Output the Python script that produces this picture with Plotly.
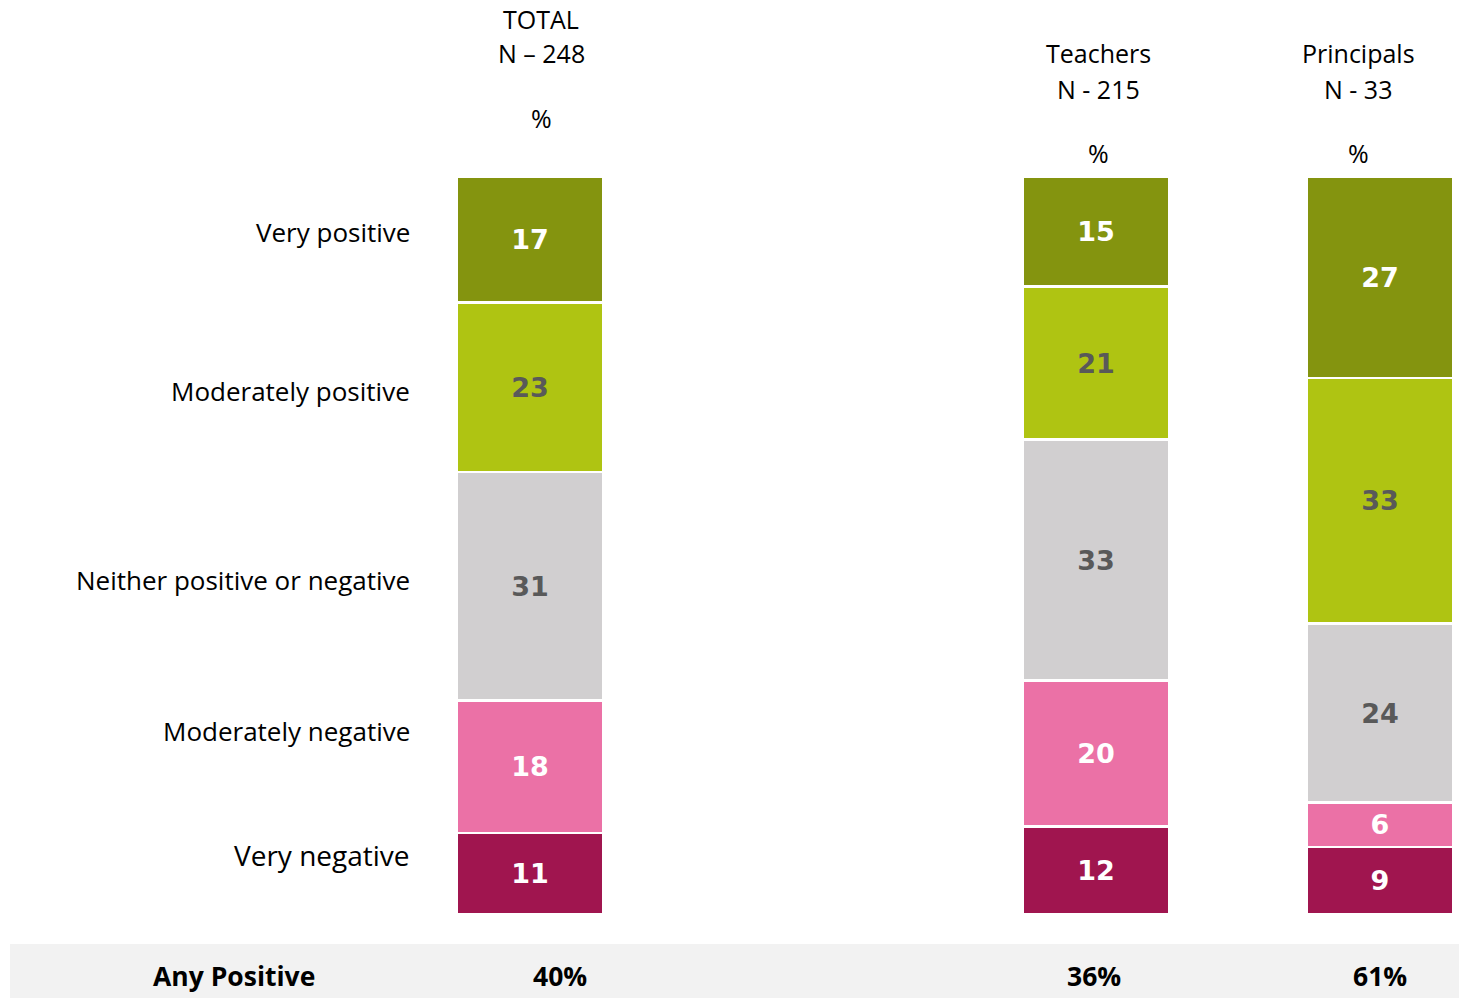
import plotly.graph_objects as go

# Survey responses, listed top of stack to bottom
categories = ["Very positive", "Moderately positive", "Neither positive or negative",
              "Moderately negative", "Very negative"]
groups = ["TOTAL", "Teachers", "Principals"]
group_n = ["N – 248", "N - 215", "N - 33"]
values = {
    "TOTAL": [17, 23, 31, 18, 11],
    "Teachers": [15, 21, 33, 20, 12],
    "Principals": [27, 33, 24, 6, 9],
}
any_positive = ["40%", "36%", "61%"]

# Styling
colors = ["#84940F", "#AFC412", "#D1CFD0", "#EB71A6", "#A0154F"]
text_colors = ["white", "#595959", "#595959", "white", "white"]

W, H = 1459, 998
bar_x = [530, 1096, 1380]
header_x = [541, 1098, 1358]
bar_width = 147
plot_top_px, plot_bottom_px = 177, 914
label_font = "'Open Sans', Lato, sans-serif"


def py(px):
    """Convert a pixel row into paper coordinates."""
    return (H - px) / H


fig = go.Figure()

axis_names = ["y", "y2", "y3"]
for gi, g in enumerate(groups):
    vals = values[g]
    # stack from the bottom category upwards
    for ci in reversed(range(len(categories))):
        fig.add_trace(go.Bar(
            x=[bar_x[gi]], y=[vals[ci]], width=bar_width,
            yaxis=axis_names[gi],
            marker=dict(color=colors[ci], line=dict(color="white", width=2.5)),
            text=[str(vals[ci])], textposition="inside", insidetextanchor="middle",
            textangle=0, constraintext="none",
            textfont=dict(family="'DejaVu Sans', Verdana, sans-serif", size=27,
                          color=text_colors[ci], weight="bold"),
            showlegend=False, hoverinfo="skip",
        ))

domain = [py(plot_bottom_px), py(plot_top_px)]
layout_axes = {}
for gi, g in enumerate(groups):
    key = "yaxis" if gi == 0 else f"yaxis{gi + 1}"
    ax = dict(range=[0, sum(values[g])], domain=domain, visible=False, fixedrange=True)
    if gi > 0:
        ax["overlaying"] = "y"
    layout_axes[key] = ax

fig.update_layout(
    width=W, height=H,
    margin=dict(l=0, r=0, t=0, b=0),
    paper_bgcolor="white", plot_bgcolor="white",
    barmode="stack",
    xaxis=dict(range=[0, W], domain=[0, 1], visible=False, fixedrange=True),
    **layout_axes,
)

annotations = []

# Column headers
header_rows = [
    [(19, "TOTAL"), (53, "N – 248"), (118, "%")],
    [(53, "Teachers"), (89, "N - 215"), (153, "%")],
    [(53, "Principals"), (89, "N - 33"), (153, "%")],
]
for gi, rows in enumerate(header_rows):
    for ypx, txt in rows:
        annotations.append(dict(
            x=header_x[gi], xref="x", y=py(ypx), yref="paper",
            text=txt, showarrow=False, xanchor="center", yanchor="middle",
            font=dict(family=label_font, size=25, color="black"),
        ))

# Category labels on the left
label_rows = [232, 391, 580, 731, 855]
label_sizes = [26, 26, 26, 26, 28]
for ci, cat in enumerate(categories):
    annotations.append(dict(
        x=412, xref="x", y=py(label_rows[ci]), yref="paper",
        text=cat, showarrow=False, xanchor="right", yanchor="middle",
        font=dict(family=label_font, size=label_sizes[ci], color="black"),
    ))

# Summary band
annotations.append(dict(
    x=234, xref="x", y=py(976), yref="paper", text="<b>Any Positive</b>",
    showarrow=False, xanchor="center", yanchor="middle",
    font=dict(family=label_font, size=26.5, color="black"),
))
for gi, txt in enumerate(any_positive):
    annotations.append(dict(
        x=[560, 1094, 1380][gi], xref="x", y=py(976), yref="paper", text=f"<b>{txt}</b>",
        showarrow=False, xanchor="center", yanchor="middle",
        font=dict(family=label_font, size=26.5, color="black"),
    ))

fig.update_layout(
    annotations=annotations,
    shapes=[dict(type="rect", xref="paper", yref="paper",
                 x0=10 / W, x1=1, y0=0, y1=py(944),
                 fillcolor="#F2F2F2", line=dict(width=0), layer="below")],
)

fig.write_html("out.html")
